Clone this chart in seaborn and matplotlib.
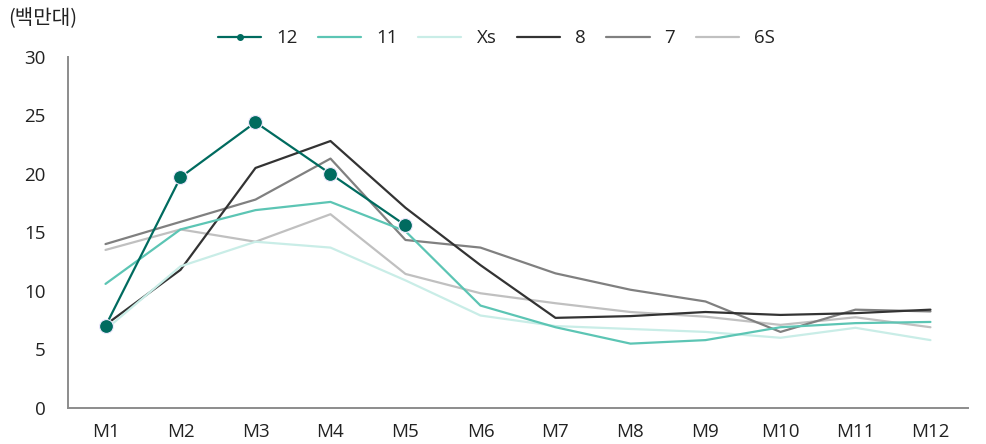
import matplotlib
matplotlib.use("Agg")
import matplotlib.pyplot as plt
from matplotlib.lines import Line2D
import seaborn as sns
import pandas as pd
import numpy as np

months = ["M1", "M2", "M3", "M4", "M5", "M6", "M7", "M8", "M9", "M10", "M11", "M12"]
series_names = ["12", "11", "Xs", "8", "7", "6S"]
v12 = [7.0, 19.7, 24.4, 20.0, 15.6]
v11 = [10.6, 15.25, 16.9, 17.6, 15.1, 8.75, 6.9, 5.5, 5.8, 6.9, 7.25, 7.35]
vXs = [6.7, 12.1, 14.2, 13.7, 10.9, 7.9, 7.0, 6.75, 6.5, 6.0, 6.85, 5.8]
v8 = [7.1, 11.8, 20.5, 22.8, 17.1, 12.2, 7.7, 7.85, 8.2, 7.95, 8.1, 8.4]
v7 = [14.0, 15.9, 17.8, 21.3, 14.35, 13.7, 11.5, 10.1, 9.1, 6.5, 8.4, 8.25]
v6S = [13.5, 15.25, 14.2, 16.55, 11.45, 9.8, 8.95, 8.2, 7.8, 7.1, 7.75, 6.9]
unit_label = "(백만대)"
yticks = [0, 5, 10, 15, 20, 25, 30]

colors = {"12": "#006b5f", "11": "#5cc5b4", "Xs": "#c9ede7",
          "8": "#333333", "7": "#808080", "6S": "#c0c0c0"}
values = {"12": v12, "11": v11, "Xs": vXs, "8": v8, "7": v7, "6S": v6S}

rows = []
for name in series_names:
    for i, v in enumerate(values[name]):
        rows.append({"model": name, "pos": i, "month": months[i], "value": v})
df = pd.DataFrame(rows)

sns.set_style("white")
plt.rcParams['font.family'] = ['Open Sans', 'Noto Sans CJK KR', 'DejaVu Sans']

fig = plt.figure(figsize=(9.87, 4.44), dpi=100)
ax = fig.add_axes([0.0689, 0.081, 0.9118, 0.7913])

for name in reversed(series_names):
    sub = df[df.model == name]
    if name == "12":
        sns.lineplot(data=sub, x="pos", y="value", ax=ax, color=colors[name],
                     linewidth=1.6, marker="o", markersize=10,
                     markeredgecolor="#f0eaff", markeredgewidth=0.8, zorder=10)
    else:
        sns.lineplot(data=sub, x="pos", y="value", ax=ax, color=colors[name],
                     linewidth=1.6, zorder=5)

ax.set_xlim(-0.5, len(months) - 0.5)
ax.set_ylim(0, 30)
ax.set_yticks(yticks)
ax.set_yticklabels([str(t) for t in yticks])
ax.set_xticks(np.arange(len(months)))
ax.set_xticklabels(months)
ax.set_xticks(np.arange(len(months) + 1) - 0.5, minor=True)
ax.tick_params(axis="x", which="major", length=0, pad=11, labelsize=13.5, labelcolor="#222222")
ax.tick_params(axis="x", which="minor", length=5, width=1.2, color="#8c8c8c", direction="out")
ax.tick_params(axis="y", length=5, width=1.2, color="#8c8c8c", direction="out",
               pad=11, labelsize=13.5, labelcolor="#222222")
ax.set_xlabel("")
ax.set_ylabel("")
for s in ["top", "right"]:
    ax.spines[s].set_visible(False)
for s in ["left", "bottom"]:
    ax.spines[s].set_color("#8c8c8c")
    ax.spines[s].set_linewidth(1.4)
ax.grid(False)

handles = []
for name in series_names:
    if name == "12":
        h = Line2D([], [], color=colors[name], linewidth=1.6, marker="o", markersize=4)
    else:
        h = Line2D([], [], color=colors[name], linewidth=1.6)
    handles.append(h)
fig.legend(handles, series_names, loc="center", bbox_to_anchor=(0.503, 0.914),
           ncol=6, frameon=False, fontsize=13.5, handlelength=2.3, handletextpad=0.8,
           columnspacing=1.1, labelcolor="#222222")

fig.text(0.008, 0.958, unit_label, fontsize=14.5, color="#222222",
         family=['Noto Sans CJK KR', 'DejaVu Sans'], va="center", ha="left")

fig.savefig("out.png", dpi=100)
